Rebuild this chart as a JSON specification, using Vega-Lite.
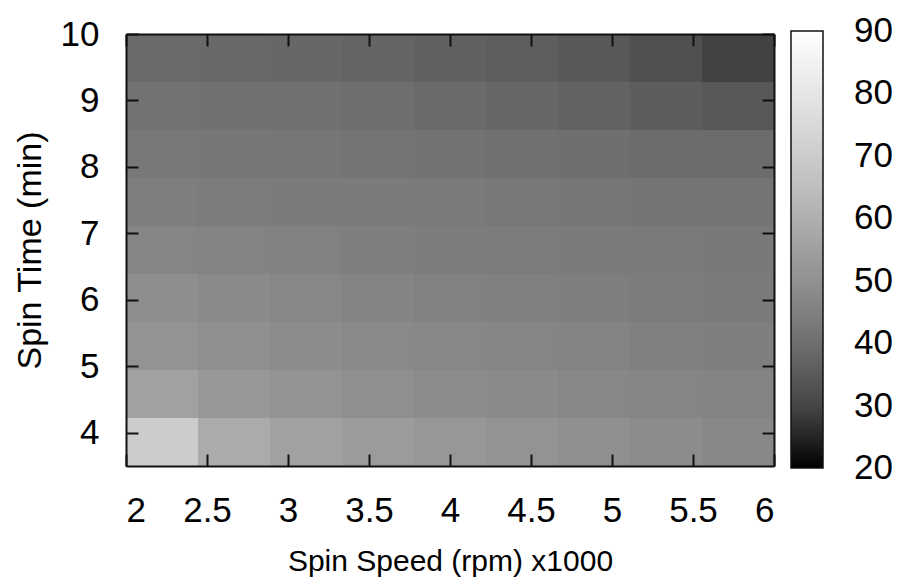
{
  "$schema": "https://vega.github.io/schema/vega-lite/v6.json",
  "width": 648,
  "height": 432,
  "autosize": "none",
  "padding": {"left": 126, "top": 34, "right": 124, "bottom": 121},
  "background": "white",
  "config": {
    "view": {"stroke": null},
    "font": "Liberation Sans",
    "axis": {
      "grid": false,
      "domainColor": "#111111",
      "domainWidth": 2,
      "tickColor": "#111111",
      "tickWidth": 2,
      "tickSize": -12,
      "labelFont": "Liberation Sans",
      "labelFontSize": 35,
      "labelColor": "black",
      "titleFont": "Liberation Sans",
      "titleFontSize": 30,
      "titleFontWeight": "normal",
      "titleColor": "black"
    }
  },
  "data": {
    "values": [
      {"s0": 2, "s1": 2.444444, "t0": 9.277778, "t1": 10, "v": 38.8},
      {"s0": 2.444444, "s1": 2.888889, "t0": 9.277778, "t1": 10, "v": 38.5},
      {"s0": 2.888889, "s1": 3.333333, "t0": 9.277778, "t1": 10, "v": 38.2},
      {"s0": 3.333333, "s1": 3.777778, "t0": 9.277778, "t1": 10, "v": 37.4},
      {"s0": 3.777778, "s1": 4.222222, "t0": 9.277778, "t1": 10, "v": 36.7},
      {"s0": 4.222222, "s1": 4.666667, "t0": 9.277778, "t1": 10, "v": 35.9},
      {"s0": 4.666667, "s1": 5.111111, "t0": 9.277778, "t1": 10, "v": 34.4},
      {"s0": 5.111111, "s1": 5.555556, "t0": 9.277778, "t1": 10, "v": 32.5},
      {"s0": 5.555556, "s1": 6, "t0": 9.277778, "t1": 10, "v": 29.4},

      {"s0": 2, "s1": 2.444444, "t0": 8.555556, "t1": 9.277778, "v": 40.9},
      {"s0": 2.444444, "s1": 2.888889, "t0": 8.555556, "t1": 9.277778, "v": 40.6},
      {"s0": 2.888889, "s1": 3.333333, "t0": 8.555556, "t1": 9.277778, "v": 40.4},
      {"s0": 3.333333, "s1": 3.777778, "t0": 8.555556, "t1": 9.277778, "v": 39.8},
      {"s0": 3.777778, "s1": 4.222222, "t0": 8.555556, "t1": 9.277778, "v": 39.0},
      {"s0": 4.222222, "s1": 4.666667, "t0": 8.555556, "t1": 9.277778, "v": 38.2},
      {"s0": 4.666667, "s1": 5.111111, "t0": 8.555556, "t1": 9.277778, "v": 37.2},
      {"s0": 5.111111, "s1": 5.555556, "t0": 8.555556, "t1": 9.277778, "v": 35.7},
      {"s0": 5.555556, "s1": 6, "t0": 8.555556, "t1": 9.277778, "v": 34.4},

      {"s0": 2, "s1": 2.444444, "t0": 7.833333, "t1": 8.555556, "v": 42.6},
      {"s0": 2.444444, "s1": 2.888889, "t0": 7.833333, "t1": 8.555556, "v": 42.3},
      {"s0": 2.888889, "s1": 3.333333, "t0": 7.833333, "t1": 8.555556, "v": 42.0},
      {"s0": 3.333333, "s1": 3.777778, "t0": 7.833333, "t1": 8.555556, "v": 41.5},
      {"s0": 3.777778, "s1": 4.222222, "t0": 7.833333, "t1": 8.555556, "v": 41.2},
      {"s0": 4.222222, "s1": 4.666667, "t0": 7.833333, "t1": 8.555556, "v": 40.6},
      {"s0": 4.666667, "s1": 5.111111, "t0": 7.833333, "t1": 8.555556, "v": 40.1},
      {"s0": 5.111111, "s1": 5.555556, "t0": 7.833333, "t1": 8.555556, "v": 39.6},
      {"s0": 5.555556, "s1": 6, "t0": 7.833333, "t1": 8.555556, "v": 39.3},

      {"s0": 2, "s1": 2.444444, "t0": 7.111111, "t1": 7.833333, "v": 44.6},
      {"s0": 2.444444, "s1": 2.888889, "t0": 7.111111, "t1": 7.833333, "v": 44.0},
      {"s0": 2.888889, "s1": 3.333333, "t0": 7.111111, "t1": 7.833333, "v": 43.7},
      {"s0": 3.333333, "s1": 3.777778, "t0": 7.111111, "t1": 7.833333, "v": 43.5},
      {"s0": 3.777778, "s1": 4.222222, "t0": 7.111111, "t1": 7.833333, "v": 43.2},
      {"s0": 4.222222, "s1": 4.666667, "t0": 7.111111, "t1": 7.833333, "v": 42.6},
      {"s0": 4.666667, "s1": 5.111111, "t0": 7.111111, "t1": 7.833333, "v": 42.0},
      {"s0": 5.111111, "s1": 5.555556, "t0": 7.111111, "t1": 7.833333, "v": 41.8},
      {"s0": 5.555556, "s1": 6, "t0": 7.111111, "t1": 7.833333, "v": 41.5},

      {"s0": 2, "s1": 2.444444, "t0": 6.388889, "t1": 7.111111, "v": 46.4},
      {"s0": 2.444444, "s1": 2.888889, "t0": 6.388889, "t1": 7.111111, "v": 45.8},
      {"s0": 2.888889, "s1": 3.333333, "t0": 6.388889, "t1": 7.111111, "v": 45.5},
      {"s0": 3.333333, "s1": 3.777778, "t0": 6.388889, "t1": 7.111111, "v": 44.9},
      {"s0": 3.777778, "s1": 4.222222, "t0": 6.388889, "t1": 7.111111, "v": 44.3},
      {"s0": 4.222222, "s1": 4.666667, "t0": 6.388889, "t1": 7.111111, "v": 44.0},
      {"s0": 4.666667, "s1": 5.111111, "t0": 6.388889, "t1": 7.111111, "v": 43.5},
      {"s0": 5.111111, "s1": 5.555556, "t0": 6.388889, "t1": 7.111111, "v": 43.2},
      {"s0": 5.555556, "s1": 6, "t0": 6.388889, "t1": 7.111111, "v": 42.9},

      {"s0": 2, "s1": 2.444444, "t0": 5.666667, "t1": 6.388889, "v": 49.1},
      {"s0": 2.444444, "s1": 2.888889, "t0": 5.666667, "t1": 6.388889, "v": 47.9},
      {"s0": 2.888889, "s1": 3.333333, "t0": 5.666667, "t1": 6.388889, "v": 47.0},
      {"s0": 3.333333, "s1": 3.777778, "t0": 5.666667, "t1": 6.388889, "v": 46.1},
      {"s0": 3.777778, "s1": 4.222222, "t0": 5.666667, "t1": 6.388889, "v": 45.5},
      {"s0": 4.222222, "s1": 4.666667, "t0": 5.666667, "t1": 6.388889, "v": 45.2},
      {"s0": 4.666667, "s1": 5.111111, "t0": 5.666667, "t1": 6.388889, "v": 44.6},
      {"s0": 5.111111, "s1": 5.555556, "t0": 5.666667, "t1": 6.388889, "v": 44.0},
      {"s0": 5.555556, "s1": 6, "t0": 5.666667, "t1": 6.388889, "v": 43.7},

      {"s0": 2, "s1": 2.444444, "t0": 4.944444, "t1": 5.666667, "v": 50.6},
      {"s0": 2.444444, "s1": 2.888889, "t0": 4.944444, "t1": 5.666667, "v": 49.4},
      {"s0": 2.888889, "s1": 3.333333, "t0": 4.944444, "t1": 5.666667, "v": 48.5},
      {"s0": 3.333333, "s1": 3.777778, "t0": 4.944444, "t1": 5.666667, "v": 47.6},
      {"s0": 3.777778, "s1": 4.222222, "t0": 4.944444, "t1": 5.666667, "v": 47.0},
      {"s0": 4.222222, "s1": 4.666667, "t0": 4.944444, "t1": 5.666667, "v": 46.4},
      {"s0": 4.666667, "s1": 5.111111, "t0": 4.944444, "t1": 5.666667, "v": 45.8},
      {"s0": 5.111111, "s1": 5.555556, "t0": 4.944444, "t1": 5.666667, "v": 45.2},
      {"s0": 5.555556, "s1": 6, "t0": 4.944444, "t1": 5.666667, "v": 44.9},

      {"s0": 2, "s1": 2.444444, "t0": 4.222222, "t1": 4.944444, "v": 55.1},
      {"s0": 2.444444, "s1": 2.888889, "t0": 4.222222, "t1": 4.944444, "v": 51.9},
      {"s0": 2.888889, "s1": 3.333333, "t0": 4.222222, "t1": 4.944444, "v": 50.6},
      {"s0": 3.333333, "s1": 3.777778, "t0": 4.222222, "t1": 4.944444, "v": 49.4},
      {"s0": 3.777778, "s1": 4.222222, "t0": 4.222222, "t1": 4.944444, "v": 48.5},
      {"s0": 4.222222, "s1": 4.666667, "t0": 4.222222, "t1": 4.944444, "v": 47.9},
      {"s0": 4.666667, "s1": 5.111111, "t0": 4.222222, "t1": 4.944444, "v": 47.0},
      {"s0": 5.111111, "s1": 5.555556, "t0": 4.222222, "t1": 4.944444, "v": 46.4},
      {"s0": 5.555556, "s1": 6, "t0": 4.222222, "t1": 4.944444, "v": 45.8},

      {"s0": 2, "s1": 2.444444, "t0": 3.5, "t1": 4.222222, "v": 70.1},
      {"s0": 2.444444, "s1": 2.888889, "t0": 3.5, "t1": 4.222222, "v": 58.4},
      {"s0": 2.888889, "s1": 3.333333, "t0": 3.5, "t1": 4.222222, "v": 55.1},
      {"s0": 3.333333, "s1": 3.777778, "t0": 3.5, "t1": 4.222222, "v": 53.2},
      {"s0": 3.777778, "s1": 4.222222, "t0": 3.5, "t1": 4.222222, "v": 51.9},
      {"s0": 4.222222, "s1": 4.666667, "t0": 3.5, "t1": 4.222222, "v": 50.6},
      {"s0": 4.666667, "s1": 5.111111, "t0": 3.5, "t1": 4.222222, "v": 49.4},
      {"s0": 5.111111, "s1": 5.555556, "t0": 3.5, "t1": 4.222222, "v": 48.5},
      {"s0": 5.555556, "s1": 6, "t0": 3.5, "t1": 4.222222, "v": 47.3}
    ]
  },
  "layer": [
    {
      "mark": {"type": "rect", "strokeWidth": 0},
      "encoding": {
        "x": {
          "field": "s0", "type": "quantitative",
          "scale": {"domain": [2, 6], "nice": false, "zero": false},
          "axis": {
            "orient": "bottom",
            "zindex": 2,
            "values": [2, 2.5, 3, 3.5, 4, 4.5, 5, 5.5, 6],
            "format": "~g",
            "labelPadding": 39,
            "title": "Spin Speed (rpm) x1000",
            "titlePadding": 18
          }
        },
        "x2": {"field": "s1"},
        "y": {
          "field": "t0", "type": "quantitative",
          "scale": {"domain": [3.5, 10], "nice": false, "zero": false},
          "axis": {
            "orient": "left",
            "zindex": 2,
            "values": [4, 5, 6, 7, 8, 9, 10],
            "format": "d",
            "labelPadding": 39,
            "title": "Spin Time (min)",
            "titleFontSize": 34,
            "titlePadding": 13
          }
        },
        "y2": {"field": "t1"},
        "color": {
          "field": "v", "type": "quantitative",
          "scale": {
            "domain": [20, 30, 40, 50, 60, 70, 80, 90],
            "range": ["#000000", "#464646", "#6f6f6f", "#919191", "#b0b0b0", "#cccccc", "#e6e6e6", "#ffffff"]
          },
          "legend": {
            "orient": "none",
            "legendX": 665,
            "legendY": -3,
            "direction": "vertical",
            "title": null,
            "gradientLength": 437,
            "gradientThickness": 32,
            "gradientStrokeColor": "#111111",
            "gradientStrokeWidth": 1.5,
            "values": [20, 30, 40, 50, 60, 70, 80, 90],
            "labelFont": "Liberation Sans",
            "labelFontSize": 35,
            "labelColor": "black",
            "labelOffset": 31,
            "labelOverlap": false,
            "labelBaseline": "middle",
            "encode": {"labels": {"enter": {"baseline": {"value": "middle"}}, "update": {"baseline": {"value": "middle"}}}}
          }
        }
      }
    },
    {
      "mark": {"type": "rect", "opacity": 0},
      "encoding": {
        "x": {
          "field": "s0", "type": "quantitative",
          "axis": {"orient": "top", "zindex": 2, "values": [2, 2.5, 3, 3.5, 4, 4.5, 5, 5.5, 6], "labels": false, "title": null}
        },
        "x2": {"field": "s1"},
        "y": {
          "field": "t0", "type": "quantitative",
          "axis": {"orient": "right", "zindex": 2, "values": [4, 5, 6, 7, 8, 9, 10], "labels": false, "title": null}
        },
        "y2": {"field": "t1"}
      }
    }
  ],
  "resolve": {"axis": {"x": "independent", "y": "independent"}}
}
